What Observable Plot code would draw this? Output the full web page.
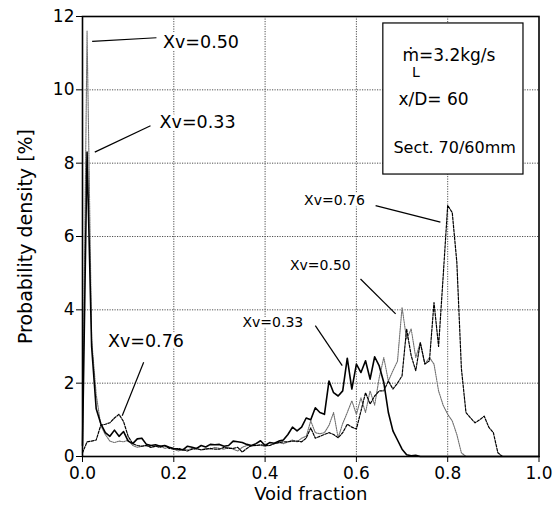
<!DOCTYPE html>
<html>
<head>
<meta charset="utf-8">
<script src="https://cdn.jsdelivr.net/npm/d3@7"></script>
<script src="https://cdn.jsdelivr.net/npm/@observablehq/plot@0.6"></script>
<style>
  html, body { margin: 0; padding: 0; background: #fff; }
</style>
</head>
<body>
<div id="chart"></div>
<script>
// Void fraction bins (0.00 ... 1.00, step 0.01)
const voidFraction = d3.range(101).map(i => i / 100);

// Probability density [%]
const pXv033 = [
  0.3, 8.3, 3.0, 1.3, 0.9, 0.65, 0.55, 0.72, 0.55, 0.68,
  0.42, 0.35, 0.48, 0.5, 0.33, 0.3, 0.32, 0.28, 0.3, 0.25,
  0.22, 0.2, 0.18, 0.28, 0.25, 0.22, 0.3, 0.26, 0.33, 0.32,
  0.33, 0.28, 0.3, 0.42, 0.4, 0.38, 0.33, 0.3, 0.35, 0.43,
  0.3, 0.38, 0.36, 0.42, 0.45, 0.6, 0.8, 0.7, 0.8, 1.05,
  1.0, 1.33, 1.2, 1.15, 2.06, 1.74, 1.65, 1.79, 2.68, 1.84,
  2.52, 2.29, 2.61, 2.11, 2.72, 2.47, 2.02, 1.2, 0.7, 0.45,
  0.2, 0.05, 0.02, 0.03, 0, 0, 0, 0, 0, 0,
  0, 0, 0, 0, 0, 0, 0, 0, 0, 0,
  0, 0, 0, 0, 0, 0, 0, 0, 0, 0,
  0
];
const pXv050 = [
  0.3, 11.6, 3.2, 1.7, 0.85, 0.6, 0.42, 0.38, 0.42, 0.4,
  0.45, 0.3, 0.25, 0.28, 0.3, 0.25, 0.28, 0.3, 0.22, 0.25,
  0.2, 0.15, 0.2, 0.18, 0.22, 0.2, 0.18, 0.22, 0.2, 0.25,
  0.22, 0.2, 0.25, 0.2, 0.15, 0.25, 0.3, 0.28, 0.3, 0.3,
  0.28, 0.3, 0.35, 0.38, 0.35, 0.4, 0.45, 0.4, 0.5, 0.55,
  0.97, 0.65, 0.62, 0.65, 0.85, 1.2, 0.51, 0.9, 1.2, 1.52,
  1.15, 1.6, 1.2, 1.79, 1.4, 2.15, 2.7, 2.06, 2.34, 2.6,
  4.07, 3.2, 3.48, 2.7, 3.11, 2.52, 2.7, 2.52, 1.79, 1.4,
  1.15, 0.97, 0.6, 0.1, 0, 0, 0, 0, 0, 0,
  0, 0, 0, 0, 0, 0, 0, 0, 0, 0,
  0
];
const pXv076 = [
  0.1, 0.4, 0.42, 0.45, 0.85, 0.88, 0.92, 1.05, 1.15, 0.95,
  0.55, 0.35, 0.3, 0.28, 0.3, 0.25, 0.28, 0.25, 0.3, 0.22,
  0.2, 0.22, 0.18, 0.15, 0.2, 0.22, 0.18, 0.2, 0.22, 0.2,
  0.2, 0.25, 0.22, 0.22, 0.25, 0.12, 0.22, 0.3, 0.3, 0.32,
  0.3, 0.3, 0.35, 0.38, 0.4, 0.4, 0.42, 0.42, 0.4, 0.5,
  0.78, 0.5, 0.55, 0.6, 0.65, 0.6, 0.51, 0.65, 0.88, 0.8,
  0.75, 1.24, 1.74, 1.43, 1.65, 1.79, 1.79, 2.06, 1.84, 2.0,
  2.2, 3.48, 2.75, 2.34, 3.11, 2.52, 2.61, 4.2, 3.0, 4.9,
  6.85, 6.65, 5.3, 2.4, 1.2, 1.05, 0.92, 1.0, 1.1, 0.8,
  0.65, 0.1, 0, 0, 0, 0, 0, 0, 0, 0,
  0
];

// Axis ticks
const xTicks = [0, 0.2, 0.4, 0.6, 0.8, 1.0];
const yTicks = [0, 2, 4, 6, 8, 10, 12];
const xGrid = [0.2, 0.4, 0.6, 0.8];
const yGrid = [2, 4, 6, 8, 10];

// Curve annotations (in data units)
const labelText = ["Xv=0.50", "Xv=0.33", "Xv=0.76", "Xv=0.76", "Xv=0.50", "Xv=0.33"];
const labelX    = [0.2596, 0.252, 0.139, 0.552, 0.521, 0.417];
const labelY    = [11.30, 9.115, 3.14, 6.98, 5.20, 3.66];
const labelSize = [17.5, 17.5, 17.5, 14, 14, 14];

const leaderX1 = [0.0212, 0.0269, 0.134, 0.642, 0.609, 0.510];
const leaderY1 = [11.32, 8.30, 2.57, 6.84, 4.84, 3.57];
const leaderX2 = [0.162, 0.149, 0.087, 0.784, 0.686, 0.569];
const leaderY2 = [11.42, 9.02, 1.11, 6.39, 3.89, 2.48];

// Info box
const boxX = [0.659, 0.966];
const boxY = [7.69, 11.81];
const boxLines = ["ṁ", "L", "=3.2kg/s", "x/D= 60", "Sect. 70/60mm"];
const boxLineX = [0.701, 0.722, 0.737, 0.692, 0.681];
const boxLineY = [10.94, 10.47, 10.94, 9.735, 8.425];
const boxLineSize = [17, 14, 17, 17, 16];

// Build tables
const rows = (vals) => voidFraction.map((x, i) => ({x, y: vals[i]}));
const labels = labelText.map((t, i) => ({t, x: labelX[i], y: labelY[i], s: labelSize[i]}));
const leaders = leaderX1.map((x1, i) => ({x1, y1: leaderY1[i], x2: leaderX2[i], y2: leaderY2[i]}));
const boxText = boxLines.map((t, i) => ({t, x: boxLineX[i], y: boxLineY[i], s: boxLineSize[i]}));

const font = "DejaVu Sans";

const chart = Plot.plot({
  width: 560,
  height: 514,
  marginLeft: 82,
  marginRight: 21.5,
  marginTop: 16,
  marginBottom: 58,
  style: {fontFamily: font, fontSize: "17px", background: "#fff", color: "#000"},
  x: {domain: [0, 1], label: null},
  y: {domain: [0, 12], label: null},
  marks: [
    Plot.gridX(xGrid, {stroke: "#222", strokeOpacity: 1, strokeWidth: 0.8, strokeDasharray: "1.2,1.3"}),
    Plot.gridY(yGrid, {stroke: "#222", strokeOpacity: 1, strokeWidth: 0.8, strokeDasharray: "1.2,1.3"}),
    Plot.rect([{}], {x1: boxX[0], x2: boxX[1], y1: boxY[0], y2: boxY[1], fill: "white", stroke: "black", strokeWidth: 1.2}),
    Plot.line(rows(pXv050), {x: "x", y: "y", stroke: "#707070", strokeWidth: 1.1, strokeDasharray: "1.3,1"}),
    Plot.line(rows(pXv076), {x: "x", y: "y", stroke: "#000", strokeWidth: 1.2, strokeDasharray: "2.6,1.4"}),
    Plot.line(rows(pXv033), {x: "x", y: "y", stroke: "#000", strokeWidth: 1.6}),
    Plot.text(labels, {x: "x", y: "y", text: "t", fontSize: "s", fill: "black", stroke: "white", strokeWidth: 6, fontFamily: font}),
    Plot.link(leaders, {x1: "x1", y1: "y1", x2: "x2", y2: "y2", stroke: "black", strokeWidth: 1.2}),
    Plot.text(boxText, {x: "x", y: "y", text: "t", fontSize: "s", textAnchor: "start", fill: "black", fontFamily: font}),
    Plot.frame({stroke: "black", strokeWidth: 1.6}),
    Plot.axisX({ticks: xTicks, tickFormat: d3.format(".1f"), tickSize: 6, tickPadding: 4, fontSize: 17, label: null}),
    Plot.axisY({ticks: yTicks, tickFormat: d => String(d), tickSize: 6, tickPadding: 2, fontSize: 17, label: null}),
    Plot.text(["Void fraction"], {frameAnchor: "bottom", lineAnchor: "middle", textAnchor: "middle", dy: 38, fontSize: 18, fontFamily: font}),
    Plot.text(["Probability density [%]"], {frameAnchor: "left", textAnchor: "middle", lineAnchor: "middle", dx: -57, rotate: -90, fontSize: 19, fontFamily: font})
  ]
});

document.getElementById("chart").appendChild(chart);
</script>
</body>
</html>
